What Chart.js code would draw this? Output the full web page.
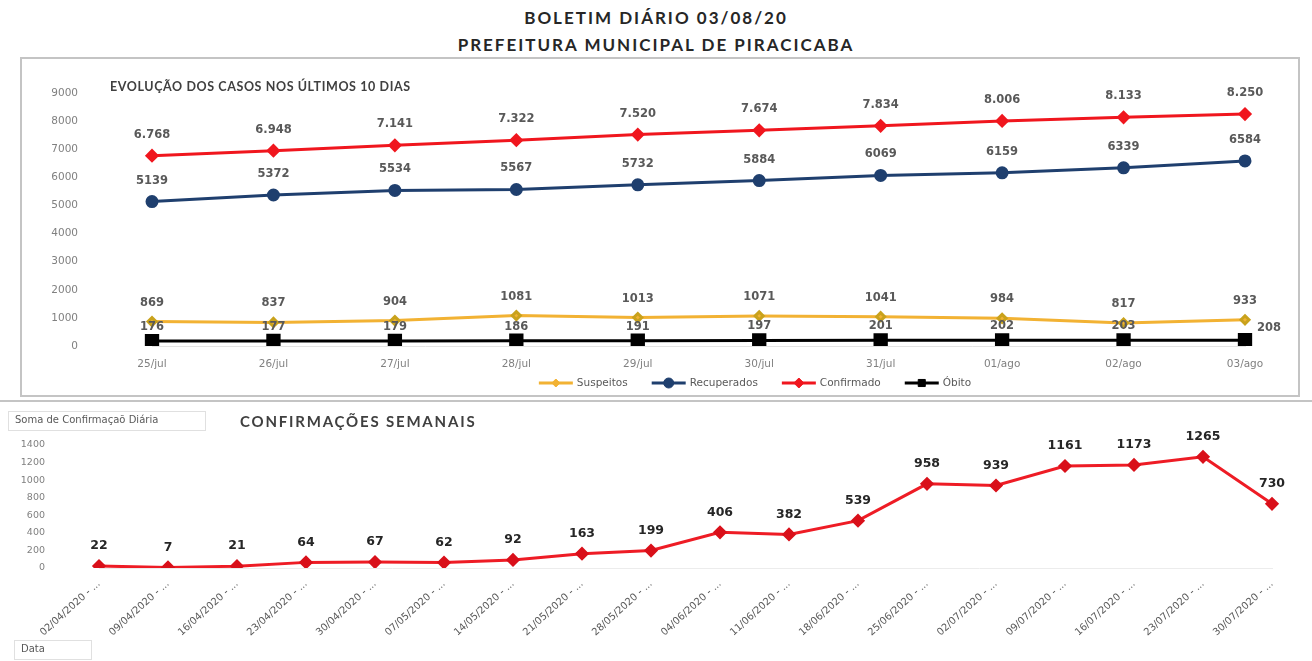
<!DOCTYPE html>
<html lang="pt-BR">
<head>
<meta charset="utf-8">
<title>Boletim Diário 03/08/20</title>
<script src="https://cdn.jsdelivr.net/npm/chart.js@4/dist/chart.umd.min.js"></script>
<style>
  body { margin: 0; background: #fff; font-family: Lato, "Open Sans", sans-serif; }
  .titulo { position: absolute; left: 0; width: 1312px; text-align: center; font-weight: 700; font-size: 17px; letter-spacing: 2px; color: #262626; }
  .caixa { position: absolute; left: 20px; top: 57px; width: 1276px; height: 336px; border: 2px solid #c4c4c4; }
  .linha { position: absolute; left: 0; top: 400px; width: 1312px; height: 2px; background: #c4c4c4; }
  .sub { position: absolute; font-weight: 700; color: #404040; }
  .campo { position: absolute; font-family: "DejaVu Sans", sans-serif; font-size: 10px; color: #595959; border: 1px solid #e0e0e0; padding: 2px 6px; box-sizing: border-box; }
  #graf1 { position: absolute; left: 24px; top: 59px; width: 1272px; height: 334px; }
  #graf2 { position: absolute; left: 0; top: 403px; width: 1312px; height: 258px; }
</style>
</head>
<body>
<div class="titulo" style="top:7px">BOLETIM DIÁRIO 03/08/20</div>
<div class="titulo" style="top:34px">PREFEITURA MUNICIPAL DE PIRACICABA</div>
<div class="caixa"></div>
<div class="linha"></div>
<div id="graf1"><canvas id="casosChart"></canvas></div>
<div id="graf2"><canvas id="semanaisChart"></canvas></div>
<div class="sub" style="left:110px; top:79px; font-size:12.5px; letter-spacing:0.6px">EVOLUÇÃO DOS CASOS NOS ÚLTIMOS 10 DIAS</div>
<div class="sub" style="left:240px; top:412px; font-size:15px; letter-spacing:1.8px">CONFIRMAÇÕES SEMANAIS</div>
<div class="campo" style="left:8px; top:411px; width:198px; height:20px">Soma de Confirmaçaõ Diária</div>
<div class="campo" style="left:14px; top:640px; width:78px; height:20px">Data</div>
<script>
// dados dos últimos 10 dias
const dias = ['25/jul', '26/jul', '27/jul', '28/jul', '29/jul', '30/jul', '31/jul', '01/ago', '02/ago', '03/ago'];
const suspeitos = [869, 837, 904, 1081, 1013, 1071, 1041, 984, 817, 933];
const recuperados = [5139, 5372, 5534, 5567, 5732, 5884, 6069, 6159, 6339, 6584];
const confirmados = [6768, 6948, 7141, 7322, 7520, 7674, 7834, 8006, 8133, 8250];
const obitos = [176, 177, 179, 186, 191, 197, 201, 202, 203, 208];
const ticksCasos = [0, 1000, 2000, 3000, 4000, 5000, 6000, 7000, 8000, 9000];

// confirmações semanais
const semanas = ['02/04/2020 - ...', '09/04/2020 - ...', '16/04/2020 - ...', '23/04/2020 - ...', '30/04/2020 - ...',
  '07/05/2020 - ...', '14/05/2020 - ...', '21/05/2020 - ...', '28/05/2020 - ...', '04/06/2020 - ...',
  '11/06/2020 - ...', '18/06/2020 - ...', '25/06/2020 - ...', '02/07/2020 - ...', '09/07/2020 - ...',
  '16/07/2020 - ...', '23/07/2020 - ...', '30/07/2020 - ...'];
const confirmacoesSemanais = [22, 7, 21, 64, 67, 62, 92, 163, 199, 406, 382, 539, 958, 939, 1161, 1173, 1265, 730];
const ticksSemanais = [0, 200, 400, 600, 800, 1000, 1200, 1400];

const AMARELO = '#F2B233', AZUL = '#1F3F6E', VERMELHO = '#F0161E', PRETO = '#000000';
const FONTE = '"DejaVu Sans", sans-serif';

function milhar(v) {
  return String(v).replace(/\B(?=(\d{3})+(?!\d))/g, '.');
}

// rótulos de valor acima dos pontos
const rotulosPlugin = {
  id: 'rotulos',
  afterDatasetsDraw(chart) {
    const ctx = chart.ctx;
    chart.data.datasets.forEach((ds, i) => {
      const r = ds.rotulo;
      if (!r) return;
      const meta = chart.getDatasetMeta(i);
      ctx.save();
      ctx.font = r.fonte;
      ctx.fillStyle = r.cor;
      ctx.textAlign = 'center';
      ctx.textBaseline = 'middle';
      meta.data.forEach((pt, j) => {
        const txt = r.formato ? r.formato(ds.data[j]) : String(ds.data[j]);
        let x = pt.x, y = pt.y + r.dy;
        if (r.ultimoDireita && j === meta.data.length - 1) { x = pt.x + 24; y = pt.y - 12; }
        ctx.fillText(txt, x, y);
      });
      ctx.restore();
    });
  }
};

// legenda com linha + marcador, como no Excel
const legendaPlugin = {
  id: 'legendaLinha',
  afterDraw(chart) {
    const ctx = chart.ctx;
    const y = 324, centro = 731;
    ctx.save();
    ctx.font = '10.5px ' + FONTE;
    ctx.textBaseline = 'middle';
    const itens = chart.data.datasets.map(ds => ({ ds, w: 34 + 4 + ctx.measureText(ds.label).width }));
    const gap = 24;
    const total = itens.reduce((s, it) => s + it.w, 0) + gap * (itens.length - 1);
    let x = centro - total / 2;
    itens.forEach(it => {
      const ds = it.ds;
      ctx.strokeStyle = ds.borderColor;
      ctx.lineWidth = 3;
      ctx.beginPath(); ctx.moveTo(x, y); ctx.lineTo(x + 34, y); ctx.stroke();
      ctx.fillStyle = ds.pointBackgroundColor;
      ctx.strokeStyle = ds.pointBackgroundColor;
      ctx.lineWidth = 1;
      Chart.helpers.drawPoint(ctx, { pointStyle: ds.pointStyle, radius: Math.min(ds.pointRadius, 5), borderWidth: 1, rotation: 0 }, x + 17, y);
      ctx.fillStyle = '#595959';
      ctx.fillText(ds.label, x + 38, y);
      x += it.w + gap;
    });
    ctx.restore();
  }
};

// tira o espaço extra que o padding dos ticks cria nas pontas do eixo
function larguraFixa(w) {
  return function (scale) {
    scale.width = w;
    scale.paddingTop = 6;
    scale.paddingBottom = 6;
  };
}
function alturaFixa(h) {
  return function (scale) {
    scale.height = h;
    scale.paddingLeft = 0;
    scale.paddingRight = 0;
  };
}

new Chart(document.getElementById('casosChart'), {
  type: 'line',
  data: {
    labels: dias,
    datasets: [
      { label: 'Suspeitos', data: suspeitos, borderColor: AMARELO, backgroundColor: AMARELO, pointBackgroundColor: AMARELO,
        pointBorderColor: '#C9A21C', pointStyle: 'rectRot', pointRadius: 4, borderWidth: 3,
        rotulo: { dy: -19, fonte: 'bold 11.5px ' + FONTE, cor: '#595959' } },
      { label: 'Recuperados', data: recuperados, borderColor: AZUL, backgroundColor: AZUL, pointBackgroundColor: AZUL,
        pointBorderColor: AZUL, pointStyle: 'circle', pointRadius: 5, borderWidth: 3,
        rotulo: { dy: -21, fonte: 'bold 11.5px ' + FONTE, cor: '#595959' } },
      { label: 'Confirmado', data: confirmados, borderColor: VERMELHO, backgroundColor: VERMELHO, pointBackgroundColor: VERMELHO,
        pointBorderColor: VERMELHO, pointStyle: 'rectRot', pointRadius: 5, borderWidth: 3,
        rotulo: { dy: -21, fonte: 'bold 11.5px ' + FONTE, cor: '#595959', formato: milhar } },
      { label: 'Óbito', data: obitos, borderColor: PRETO, backgroundColor: PRETO, pointBackgroundColor: PRETO,
        pointBorderColor: PRETO, pointStyle: 'rect', pointRadius: 8, borderWidth: 3,
        rotulo: { dy: -14, fonte: 'bold 11.5px ' + FONTE, cor: '#595959', ultimoDireita: true } }
    ]
  },
  options: {
    responsive: true,
    maintainAspectRatio: false,
    animation: false,
    layout: { padding: { left: 0, right: 51, top: 34, bottom: 0 } },
    plugins: { legend: { display: false }, title: { display: false }, tooltip: { enabled: false } },
    scales: {
      x: {
        offset: false,
        grid: { display: false },
        border: { display: true, color: '#e3e3e3' },
        ticks: { color: '#808080', font: { size: 10.5, family: 'DejaVu Sans' }, padding: 4 },
        afterFit: alturaFixa(47)
      },
      y: {
        min: 0, max: 9000,
        grid: { display: false },
        border: { display: false },
        afterBuildTicks(scale) { scale.ticks = ticksCasos.map(v => ({ value: v })); },
        ticks: { color: '#808080', font: { size: 10.5, family: 'DejaVu Sans' }, padding: 66, callback: v => String(v) },
        afterFit: larguraFixa(128)
      }
    }
  },
  plugins: [rotulosPlugin, legendaPlugin]
});

new Chart(document.getElementById('semanaisChart'), {
  type: 'line',
  data: {
    labels: semanas,
    datasets: [
      { label: 'Total', data: confirmacoesSemanais, borderColor: '#EE1C25', backgroundColor: '#EE1C25',
        pointBackgroundColor: '#D9101A', pointBorderColor: '#D9101A', pointStyle: 'rectRot', pointRadius: 5, borderWidth: 3,
        rotulo: { dy: -20, fonte: 'bold 12.5px ' + FONTE, cor: '#262626' } }
    ]
  },
  options: {
    responsive: true,
    maintainAspectRatio: false,
    animation: false,
    layout: { padding: { left: 0, right: 40, top: 42, bottom: 3 } },
    plugins: { legend: { display: false }, title: { display: false }, tooltip: { enabled: false } },
    scales: {
      x: {
        offset: false,
        grid: { display: false },
        border: { display: true, color: '#ececec' },
        ticks: { color: '#595959', font: { size: 10, family: 'DejaVu Sans' }, minRotation: 42, maxRotation: 42, padding: 2 },
        afterFit: alturaFixa(90)
      },
      y: {
        min: 0, max: 1400,
        grid: { display: false },
        border: { display: false },
        afterBuildTicks(scale) { scale.ticks = ticksSemanais.map(v => ({ value: v })); },
        ticks: { color: '#808080', font: { size: 9.5, family: 'DejaVu Sans' }, padding: 46, callback: v => String(v) },
        afterFit: larguraFixa(99)
      }
    }
  },
  plugins: [rotulosPlugin]
});
</script>
</body>
</html>
